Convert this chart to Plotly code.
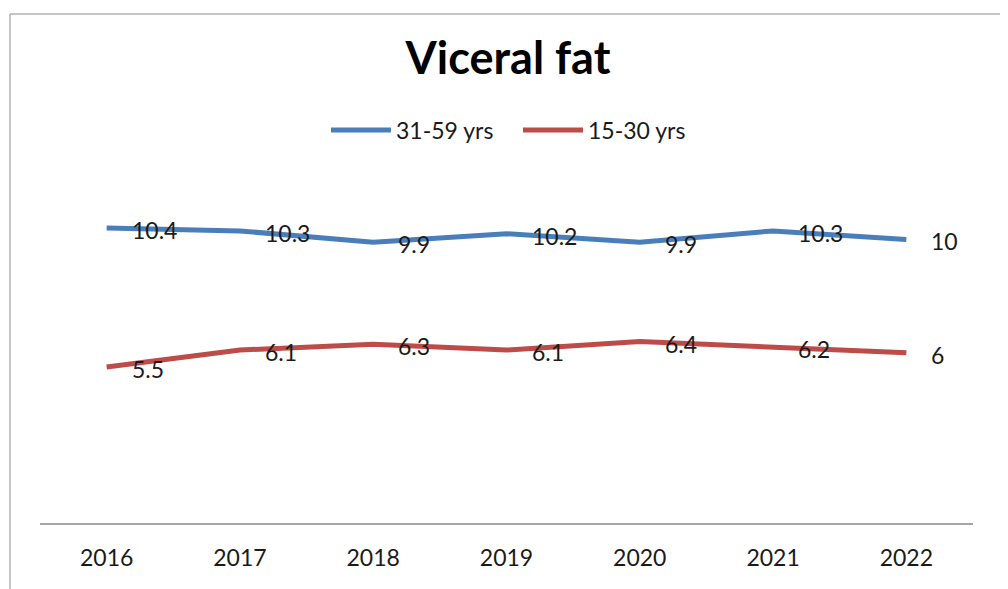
import plotly.graph_objects as go

# ---- data ----
years = ["2016", "2017", "2018", "2019", "2020", "2021", "2022"]
older_vals = [10.4, 10.3, 9.9, 10.2, 9.9, 10.3, 10]     # 31-59 yrs
younger_vals = [5.5, 6.1, 6.3, 6.1, 6.4, 6.2, 6]        # 15-30 yrs
series_names = ["31-59 yrs", "15-30 yrs"]
series_colors = ["#4A7EBB", "#BE4B48"]
title_text = "Viceral fat"

W, H = 1008, 589
OFF = 8  # page body margin offset
ML, MR, MT, MB = 40 - OFF, 35 + OFF, 126 - OFF, 66 + OFF
plot_w = W - ML - MR
plot_h = H - MT - MB

FONT = "Lato, 'Open Sans', 'DejaVu Sans', sans-serif"
TXT = "#1a1a1a"

fig = go.Figure()
for name, vals, col in zip(series_names, [older_vals, younger_vals], series_colors):
    fig.add_trace(go.Scatter(
        x=years, y=vals, name=name, mode="lines",
        line=dict(color=col, width=5),
        hoverinfo="x+y+name",
    ))

annotations = []
for vals in [older_vals, younger_vals]:
    for i, yv in enumerate(vals):
        annotations.append(dict(
            x=i, y=yv, xref="x", yref="y", text=f"{yv:g}",
            showarrow=False, xanchor="left", yanchor="middle",
            xshift=23, yshift=-2,
            font=dict(family=FONT, size=23, color=TXT),
        ))


def px_to_paper_x(px):
    return (px - OFF - ML) / plot_w


def px_to_paper_y(py):
    return (H - MB - (py - OFF)) / plot_h


# chart-area border (bottom edge falls outside the window)
shapes = [dict(
    type="rect", xref="paper", yref="paper",
    x0=px_to_paper_x(10), x1=px_to_paper_x(1002),
    y0=px_to_paper_y(660), y1=px_to_paper_y(14),
    line=dict(color="#8C8C8C", width=1), fillcolor="rgba(0,0,0,0)", layer="below",
)]

fig.update_layout(
    width=W, height=H,
    margin=dict(l=ML, r=MR, t=MT, b=MB, pad=0),
    paper_bgcolor="white", plot_bgcolor="white",
    title=dict(
        text=f"<b>{title_text}</b>", x=(508 - OFF) / W, xref="container", xanchor="center",
        y=1 - (58 - OFF) / H, yref="container", yanchor="middle",
        font=dict(family=FONT, size=45, color="#000000"),
    ),
    showlegend=True,
    legend=dict(
        orientation="h", x=px_to_paper_x(332 - 6), xanchor="left",
        y=px_to_paper_y(130), yanchor="middle",
        font=dict(family=FONT, size=23, color=TXT),
        itemwidth=60, entrywidth=117, entrywidthmode="pixels",
        bgcolor="rgba(0,0,0,0)",
    ),
    xaxis=dict(
        type="category", range=[-0.5, 6.5],
        showline=True, linecolor="#A6A6A6", linewidth=1.5,
        showgrid=False, zeroline=False, ticks="",
        tickfont=dict(family=FONT, size=23, color=TXT),
        ticklabelstandoff=14,
    ),
    yaxis=dict(
        range=[0, 14], showgrid=False, zeroline=False, showline=False,
        showticklabels=False, ticks="",
    ),
    annotations=annotations,
    shapes=shapes,
)

fig.write_html("out.html")
